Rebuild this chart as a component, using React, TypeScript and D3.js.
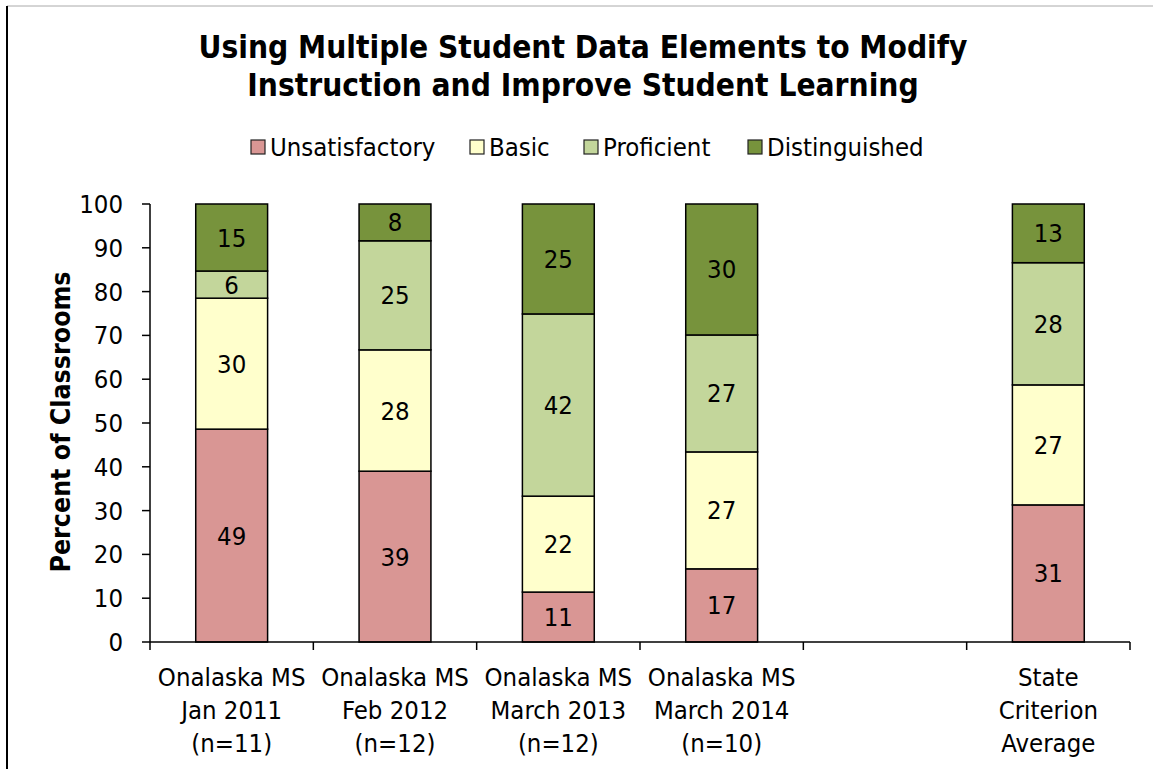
import React from "react";
import * as d3 from "d3";

const categories = [
  ["Onalaska MS", "Jan 2011", "(n=11)"],
  ["Onalaska MS", "Feb 2012", "(n=12)"],
  ["Onalaska MS", "March 2013", "(n=12)"],
  ["Onalaska MS", "March 2014", "(n=10)"],
  [],
  ["State", "Criterion", "Average"],
];
const seriesNames = ["Unsatisfactory", "Basic", "Proficient", "Distinguished"];
const unsatisfactory = [48.6, 39.0, 11.4, 16.7, null, 31.3];
const basic = [29.9, 27.7, 21.9, 26.7, null, 27.4];
const proficient = [6.2, 24.9, 41.6, 26.7, null, 27.9];
const distinguished = [15.3, 8.4, 25.1, 29.9, null, 13.4];
const yTicks = [0, 10, 20, 30, 40, 50, 60, 70, 80, 90, 100];
const colors = ["#D99694", "#FFFFCC", "#C3D69B", "#77933C"];

const FONT = "Tahoma, 'DejaVu Sans Condensed', 'DejaVu Sans', sans-serif";

export default function App() {
  const W = 1153, H = 769;
  const left = 150, right = 1130, top = 204, bottom = 642;
  const idx = categories.map((_, i) => i);
  const x = d3.scaleBand<number>().domain(idx).range([left, right]).paddingInner(0.56).paddingOuter(0.28);
  const y = d3.scaleLinear().domain([0, 100]).range([bottom, top]);
  const seriesArr = [unsatisfactory, basic, proficient, distinguished];
  const rows = idx.map((i) => {
    const r: any = { i };
    seriesNames.forEach((s, k) => (r[s] = seriesArr[k][i] ?? 0));
    return r;
  });
  const stacked = d3.stack<any>().keys(seriesNames)(rows);
  const step = (right - left) / categories.length;
  const legendX = [251, 470, 584, 748];
  const fs = 25.5;

  return (
    <svg width={W} height={H} style={{ position: "absolute", left: 0, top: 0, background: "#fff" }} fontFamily={FONT}>
      <line x1={7} y1={6} x2={W} y2={6} stroke="#aaa" strokeWidth={1} />
      <line x1={7} y1={6} x2={7} y2={H} stroke="#000" strokeWidth={2} />
      <text x={583} y={58} textAnchor="middle" fontSize={31.4} fontWeight="bold">Using Multiple Student Data Elements to Modify</text>
      <text x={583} y={96} textAnchor="middle" fontSize={31.4} fontWeight="bold">Instruction and Improve Student Learning</text>
      {seriesNames.map((s, k) => (
        <g key={s}>
          <rect x={legendX[k]} y={140} width={14} height={14} fill={colors[k]} stroke="#222" strokeWidth={1.2} />
          <text x={legendX[k] + 19} y={156} fontSize={fs}>{s}</text>
        </g>
      ))}
      <text transform={`translate(70,${(top + bottom) / 2 - 1}) rotate(-90)`} textAnchor="middle" fontSize={26.5} fontWeight="bold">Percent of Classrooms</text>
      {stacked.map((layer, k) =>
        layer.map((d, i) => {
          const v = seriesArr[k][i];
          if (v == null) return null;
          const y0 = y(d[0]), y1 = y(d[1]);
          return (
            <g key={`${k}-${i}`}>
              <rect x={x(i)} y={y1} width={x.bandwidth()} height={y0 - y1} fill={colors[k]} stroke="#000" strokeWidth={1.5} />
              <text x={x(i)! + x.bandwidth() / 2} y={(y0 + y1) / 2 + 9} textAnchor="middle" fontSize={fs}>{d3.format(".0f")(v)}</text>
            </g>
          );
        })
      )}
      <line x1={left} y1={top} x2={left} y2={bottom} stroke="#000" strokeWidth={1.5} />
      {yTicks.map((t) => (
        <g key={t}>
          <line x1={left - 8} x2={left} y1={y(t)} y2={y(t)} stroke="#000" strokeWidth={1.5} />
          <text x={left - 27} y={y(t) + 9} textAnchor="end" fontSize={fs}>{t}</text>
        </g>
      ))}
      <line x1={left} y1={bottom} x2={right} y2={bottom} stroke="#000" strokeWidth={1.5} />
      {d3.range(categories.length + 1).map((j) => (
        <line key={j} x1={left + j * step} x2={left + j * step} y1={bottom} y2={bottom + 8} stroke="#000" strokeWidth={1.5} />
      ))}
      {categories.map((lines, i) =>
        lines.map((ln, j) => (
          <text key={`${i}-${j}`} x={x(i)! + x.bandwidth() / 2} y={686 + j * 33} textAnchor="middle" fontSize={fs}>{ln}</text>
        ))
      )}
    </svg>
  );
}
